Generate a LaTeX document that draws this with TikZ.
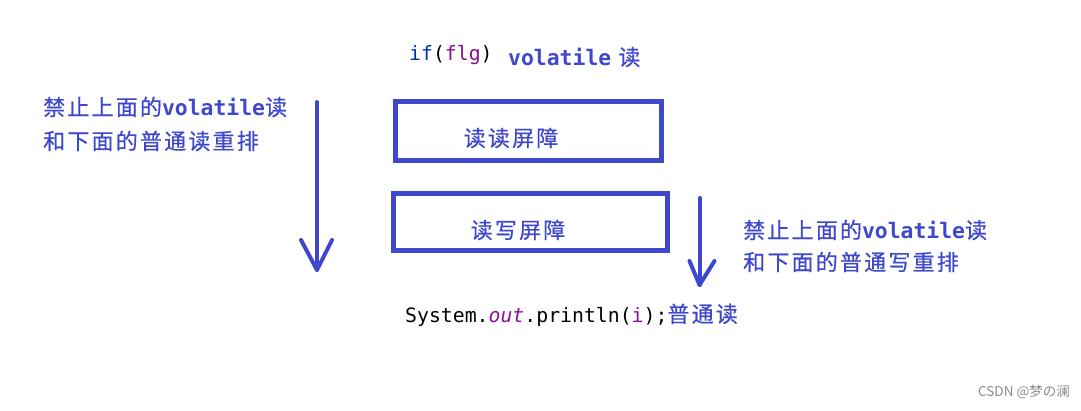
\documentclass[tikz,border=0pt]{standalone}
\usepackage{fontspec}
\newfontfamily\cjk[LetterSpace=10,FakeBold=0.6]{Noto Sans CJK SC}
\newfontfamily\cjkw{Noto Sans CJK SC}
\newfontfamily\codef[ItalicFont={DejaVu Sans Mono Oblique}]{DejaVu Sans Mono}
\newfontfamily\vb{DejaVu Sans Mono Bold}
\definecolor{pblue}{RGB}{63,72,204}
\definecolor{kw}{RGB}{0,51,179}
\definecolor{fld}{RGB}{135,16,148}
\begin{document}
\begin{tikzpicture}[x=1pt,y=-1pt,
  barrier/.style={draw=pblue, line width=5pt, inner sep=0pt},
  note/.style={text=pblue, anchor=west, inner sep=0pt, font=\fontsize{22}{34}\cjk},
  code/.style={anchor=west, inner sep=0pt, font=\fontsize{19.8}{24}\codef},
  flowline/.style={draw=pblue, line width=4pt, line cap=round, line join=round}
]
\useasboundingbox (0,0) rectangle (1081,410);

% barriers
\node[barrier, minimum width=265.5pt, minimum height=58.5pt] (b1) at (528.25,130.75) {};
\node[barrier, minimum width=273.5pt, minimum height=56.5pt] (b2) at (530.25,221.75) {};
\node[note, anchor=center] (t1) at (511,138) {读读屏障};
\node[note, anchor=center] (t2) at (518,230) {读写屏障};

% top code line
\node[code] (top) at (409,55) {{\color{kw}if}(\textcolor{fld}{flg})};
\node[note] (topv) at (508,57) {{\fontsize{21.4}{24}\vb volatile} 读};

% bottom code line
\node[code] (bot) at (405,315) {System.\textcolor{fld}{\itshape out}.println(\textcolor{fld}{i});{\fontsize{22}{24}\cjk\color{pblue}普通读}};

% left notes
\node[note] (l1) at (43,107) {禁止上面的{\fontsize{21.4}{24}\vb volatile}读};
\node[note] (l2) at (43,141) {和下面的普通读重排};

% right notes
\node[note] (r1) at (743,230) {禁止上面的{\fontsize{21.4}{24}\vb volatile}读};
\node[note] (r2) at (743,262) {和下面的普通写重排};

% left arrow
\coordinate (la1) at (317,102);
\coordinate (la2) at (317,270);
\draw[flowline] (la1) -- (la2);
\draw[flowline] (la2) ++(-16,-30) -- (la2) -- ++(15,-30);

% right arrow
\coordinate (ra1) at (699.5,198);
\coordinate (ra2) at (699.5,285);
\draw[flowline] (ra1) -- (ra2);
\draw[flowline] (ra2) ++(-10,-24) -- (ra2) -- ++(15,-24);

% watermark
\node[anchor=east, inner sep=0pt, text=black!45, font=\fontsize{13.5}{15}\cjkw] (wm) at (1070,392) {CSDN @梦の澜};
\end{tikzpicture}
\end{document}
